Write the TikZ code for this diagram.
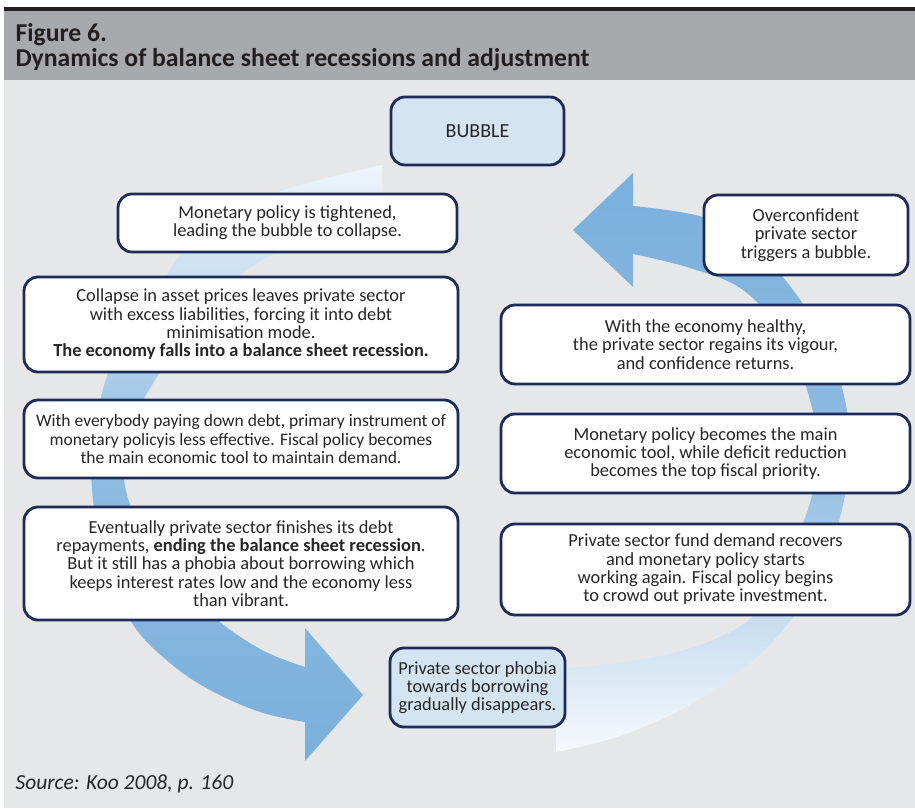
\documentclass[tikz,border=0pt]{standalone}
\usepackage{fontspec}
\setmainfont{Carlito}
\definecolor{hdrgray}{HTML}{A7A9AC}
\definecolor{bodygray}{HTML}{E6E7E8}
\definecolor{rule}{HTML}{231F20}
\definecolor{navy}{HTML}{1C2B58}
\definecolor{ink}{HTML}{262626}
\definecolor{bubblefill}{HTML}{D3E4F3}
\definecolor{arrowdeep}{HTML}{79B0DC}
\definecolor{arrowmid}{HTML}{8EBCE2}
\definecolor{arrowpale}{HTML}{EEF4FA}
\definecolor{arrowwhite}{HTML}{F7F9FC}
\begin{document}
\begin{tikzpicture}[x=1pt,y=1pt,
  card/.style={draw=navy, line width=2.8pt, fill=white, rounded corners=14pt,
    align=center, text=ink, inner sep=0pt,
    font=\fontsize{18.4}{18.3}\selectfont},
  keycard/.style={card, fill=bubblefill},
  titletext/.style={anchor=base west, text=rule,
    font=\bfseries\fontsize{25.7}{28}\selectfont},
  sourcetext/.style={anchor=base west, text=ink,
    font=\itshape\fontsize{21.5}{24}\selectfont}]
\useasboundingbox (0,0) rectangle (915,808);

% frame: rule, header band and panel
\fill[white] (0,0) rectangle (915,808);
\fill[bodygray] (4,0) rectangle (915,728);
\fill[hdrgray] (4,728) rectangle (915,797);
\fill[rule] (4,797) rectangle (915,801);

\node[titletext] (fig) at (12,766) {Figure 6.};
\node[titletext] (ttl) at (12,741) {Dynamics of balance sheet recessions and adjustment};
\node[sourcetext] (src) at (12,18) {Source: Koo 2008, p. 160};

% left circular arrow: from the bubble down the left side, head pointing right
\shade[top color=arrowpale, bottom color=arrowdeep, middle color=arrowmid]
  plot[smooth, tension=0.6] coordinates {(382,643) (290,620) (225,590) (182,555)
    (165,530) (140,497) (110,440) (95,380) (92,318) (105,250) (132,185)
    (170,145) (210,118) (260,96) (305,86)}
  -- (305,47) -- (363,113) -- (305,180)
  -- plot[smooth, tension=0.6] coordinates {(305,141) (262,158) (215,190)
    (170,235) (138,285) (124,330) (130,380) (152,423) (190,480) (237,531)
    (290,562) (340,578) (382,585)}
  -- cycle;

% right circular arrow: from the bottom up the right side, head pointing left
\shade[top color=arrowdeep, bottom color=arrowwhite, middle color=arrowmid]
  plot[smooth, tension=0.6] coordinates {(556,56) (620,72) (690,103) (750,145)
    (793,191) (825,245) (842,299) (850,350) (845,408) (825,465) (793,518)
    (750,565) (703,591) (633,602)}
  -- (633,635) -- (573,578) -- (633,521)
  -- plot[smooth, tension=0.6] coordinates {(633,554) (690,540) (743,518)
    (785,470) (810,408) (818,350) (808,299) (785,245) (753,192) (705,165)
    (640,148) (558,139)}
  -- cycle;

% stages of the cycle
\node[keycard, minimum width=173pt, minimum height=68pt, font=\fontsize{20}{22}\selectfont]
  (bubble) at (477.5,677) {BUBBLE};
\node[card, minimum width=339pt, minimum height=58pt] (tighten) at (287.5,585)
  {Monetary policy is tightened,\\leading the bubble to collapse.};
\node[card, minimum width=204pt, minimum height=80pt] (overconf) at (806,573)
  {Overconfident\\private sector\\triggers a bubble.};
\node[card, minimum width=434pt, minimum height=95pt] (collapse) at (241,483.5)
  {Collapse in asset prices leaves private sector\\with excess liabilities, forcing it into debt\\minimisation mode.\\\textbf{The economy falls into a balance sheet recession.}};
\node[card, minimum width=409pt, minimum height=79pt] (healthy) at (705.5,463.5)
  {With the economy healthy,\\the private sector regains its vigour,\\and confidence returns.};
\node[card, minimum width=434pt, minimum height=78pt, font=\fontsize{17.5}{18.3}\selectfont]
  (paydown) at (241,369)
  {With everybody paying down debt, primary instrument of\\monetary policyis less effective. Fiscal policy becomes\\the main economic tool to maintain demand.};
\node[card, minimum width=409pt, minimum height=79pt] (monmain) at (705.5,354.5)
  {Monetary policy becomes the main\\economic tool, while deficit reduction\\becomes the top fiscal priority.};
\node[card, minimum width=434pt, minimum height=113pt] (finish) at (241,244.5)
  {Eventually private sector finishes its debt\\repayments, \textbf{ending the balance sheet recession}.\\But it still has a phobia about borrowing which\\keeps interest rates low and the economy less\\than vibrant.};
\node[card, minimum width=409pt, minimum height=91pt] (recover) at (705.5,238.5)
  {Private sector fund demand recovers\\and monetary policy starts\\working again. Fiscal policy begins\\to crowd out private investment.};
\node[keycard, minimum width=175pt, minimum height=79pt] (phobia) at (477.5,120.5)
  {Private sector phobia\\towards borrowing\\gradually disappears.};
\end{tikzpicture}
\end{document}
